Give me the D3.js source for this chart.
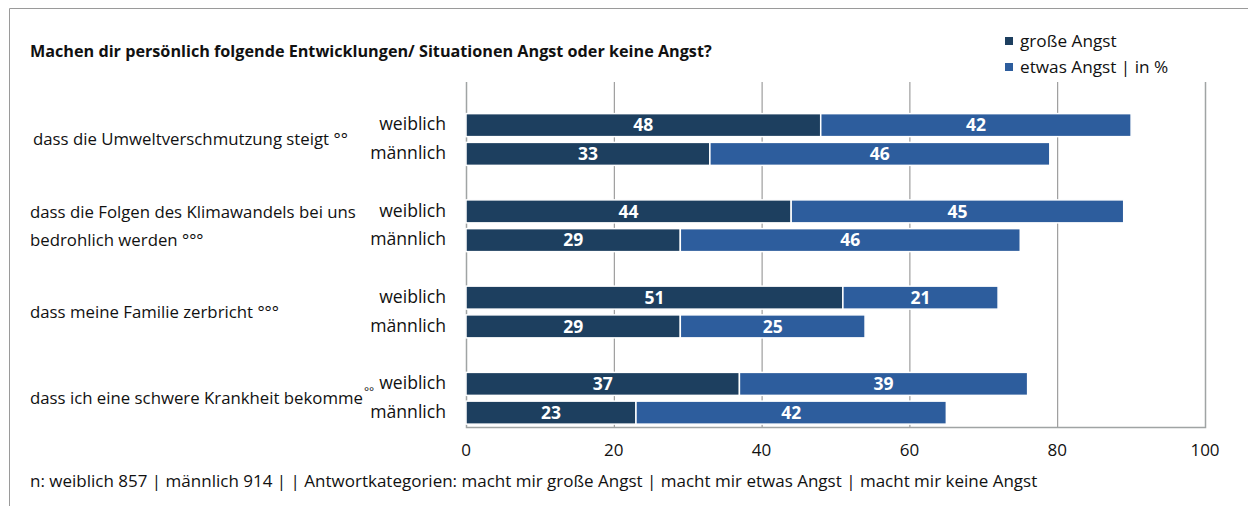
<!DOCTYPE html>
<html>
<head>
<meta charset="utf-8">
<script src="https://cdn.jsdelivr.net/npm/d3@7"></script>
<style>
  body { margin: 0; background: #fff; }
  text { font-family: "Open Sans", Lato, sans-serif; fill: #111; }
</style>
</head>
<body>
<div id="chart"></div>
<script>
var W = 1248, H = 506;

// data
var topics = [
    ["dass die Umweltverschmutzung steigt °°"],
    ["dass die Folgen des Klimawandels bei uns", "bedrohlich werden °°°"],
    ["dass meine Familie zerbricht °°°"],
    ["dass ich eine schwere Krankheit bekomme"]
];
var genders = ["weiblich", "männlich"];
var grosseW = [48, 44, 51, 37];
var etwasW = [42, 45, 21, 39];
var grosseM = [33, 29, 29, 23];
var etwasM = [46, 46, 25, 42];
var xTicks = [0, 20, 40, 60, 80, 100];
var seriesNames = ["große Angst", "etwas Angst | in %"];
var colors = ["#1d3f5f", "#2d5d9d"];

var title = "Machen dir persönlich folgende Entwicklungen/ Situationen Angst oder keine Angst?";
var footnote = "n: weiblich 857 | männlich 914 | | Antwortkategorien: macht mir große Angst | macht mir etwas Angst | macht mir keine Angst";

// rows: gap, weiblich, männlich for each topic
var rows = [];
topics.forEach(function (t, i) {
    rows.push({key: "gap" + i});
    rows.push({key: "w" + i, topic: i, gender: 0, vals: [grosseW[i], etwasW[i]]});
    rows.push({key: "m" + i, topic: i, gender: 1, vals: [grosseM[i], etwasM[i]]});
});

var plot = {x0: 466, x1: 1205, y0: 82, y1: 427};

var x = d3.scaleLinear().domain([0, 100]).range([plot.x0, plot.x1]);
var y = d3.scaleBand().domain(rows.map(function (r) { return r.key; }))
    .range([plot.y0, plot.y1]).paddingInner(0.2).paddingOuter(0.1);

var svg = d3.select("#chart").append("svg")
    .attr("width", W).attr("height", H);

// outer frame (only top and left visible)
svg.append("path")
    .attr("d", "M9.5," + H + "V8.5H" + W)
    .attr("fill", "none").attr("stroke", "#9a9a9a").attr("stroke-width", 1);

// title
svg.append("text").attr("x", 30).attr("y", 57)
    .attr("font-size", 16.2).attr("font-weight", "bold")
    .text(title);

// grid
svg.append("g").selectAll("line").data(xTicks.slice(1, -1)).enter().append("line")
    .attr("x1", function (d) { return x(d) + 0.5; })
    .attr("x2", function (d) { return x(d) + 0.5; })
    .attr("y1", plot.y0).attr("y2", plot.y1)
    .attr("stroke", "#8a8a8a").attr("stroke-width", 1);

// plot border: left axis, right, bottom
svg.append("path")
    .attr("d", "M" + (plot.x0 + 0.5) + "," + plot.y0 + "V" + (plot.y1 + 0.5) + "H" + (plot.x1 + 0.5) + "V" + plot.y0)
    .attr("fill", "none").attr("stroke", "#a0a4a4").attr("stroke-width", 1.5);

// bars
var barRows = rows.filter(function (r) { return r.vals; });
var segs = [];
barRows.forEach(function (r) {
    var start = 0;
    r.vals.forEach(function (v, s) {
        segs.push({key: r.key, s: s, v: v, a: start, b: start + v});
        start += v;
    });
});

svg.append("g").selectAll("rect").data(segs).enter().append("rect")
    .attr("x", function (d) { return x(d.a); })
    .attr("y", function (d) { return y(d.key); })
    .attr("width", function (d) { return x(d.b) - x(d.a); })
    .attr("height", y.bandwidth())
    .attr("fill", function (d) { return colors[d.s]; })
    .attr("stroke", "#fff").attr("stroke-width", 1.5);

svg.append("g").selectAll("text").data(segs).enter().append("text")
    .attr("x", function (d) { return (x(d.a) + x(d.b)) / 2; })
    .attr("y", function (d) { return y(d.key) + y.bandwidth() / 2; })
    .attr("dy", "0.36em")
    .attr("text-anchor", "middle")
    .attr("font-size", 17.5).attr("font-weight", "bold")
    .style("fill", "#fff")
    .text(function (d) { return d.v; });

// gender labels
svg.append("g").selectAll("text").data(barRows).enter().append("text")
    .attr("x", 446)
    .attr("y", function (d) { return y(d.key) + y.bandwidth() / 2; })
    .attr("dy", "0.3em")
    .attr("text-anchor", "end")
    .attr("font-size", 17.6)
    .text(function (d) { return genders[d.gender]; });

// topic labels
var topicG = svg.append("g").selectAll("text").data(topics).enter().append("text")
    .attr("x", function (d, i) { return i === 0 ? 33 : 30; })
    .attr("y", function (d, i) {
        var mid = (y("w" + i) + y("m" + i) + y.bandwidth()) / 2;
        return mid - (d.length - 1) * 14;
    })
    .attr("font-size", 16.8);
topicG.each(function (d, i) {
    var t = d3.select(this);
    d.forEach(function (line, k) {
        t.append("tspan").attr("x", i === 0 ? 33 : 30)
            .attr("dy", k === 0 ? "0.35em" : 28)
            .text(line);
    });
    if (i === 3) {
        t.append("tspan").attr("dx", 1).attr("dy", -8).attr("font-size", 12).text("°°");
    }
});

// x axis labels
svg.append("g").selectAll("text").data(xTicks).enter().append("text")
    .attr("x", function (d) { return x(d); })
    .attr("y", 456)
    .attr("text-anchor", "middle")
    .attr("font-size", 17)
    .text(function (d) { return d; });

// footnote
svg.append("text").attr("x", 30).attr("y", 487)
    .attr("font-size", 17)
    .text(footnote);

// legend
var leg = svg.append("g").selectAll("g").data(seriesNames).enter().append("g")
    .attr("transform", function (d, i) { return "translate(1005," + (41 + i * 26) + ")"; });
leg.append("rect").attr("x", 0).attr("y", -4).attr("width", 8).attr("height", 8)
    .attr("fill", function (d, i) { return colors[i]; });
leg.append("text").attr("x", 15).attr("dy", "0.35em")
    .attr("font-size", 17.2)
    .text(function (d) { return d; });
</script>
</body>
</html>
